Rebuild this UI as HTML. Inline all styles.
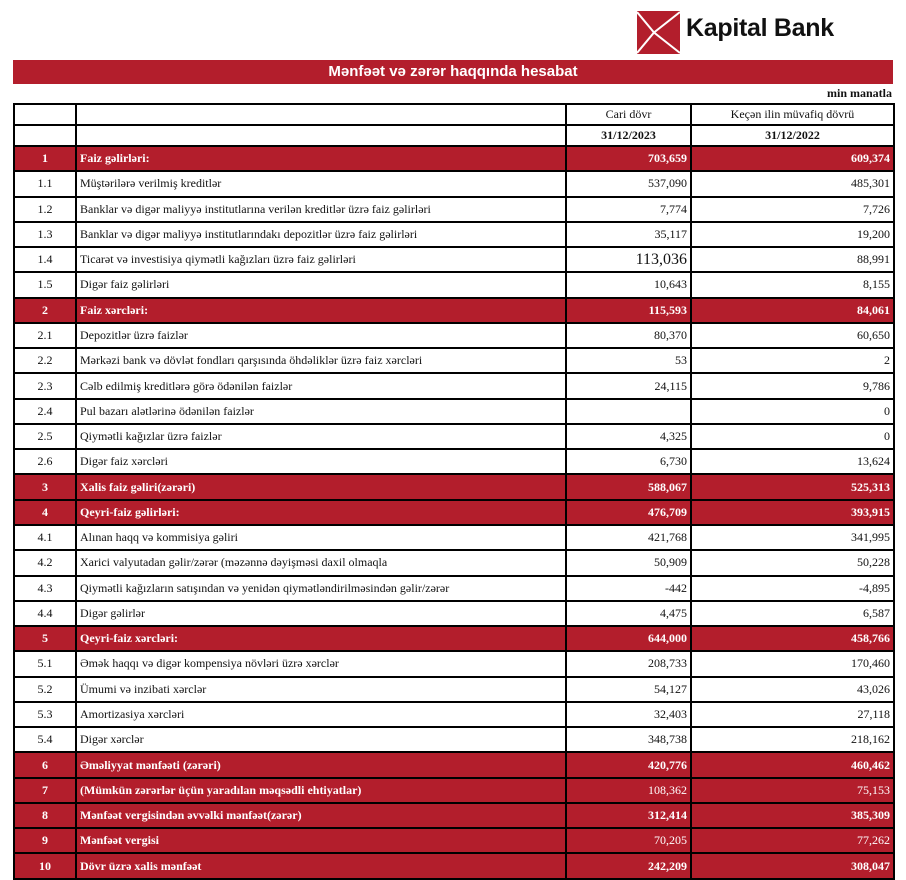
<!DOCTYPE html>
<html><head><meta charset="utf-8"><style>
*{margin:0;padding:0;box-sizing:border-box}
body{width:906px;height:880px;background:#fff;position:relative;overflow:hidden;font-family:"Liberation Serif",serif}
.logo{position:absolute;left:637px;top:11px}
.kb{position:absolute;left:686px;top:14px;font:bold 25px "Liberation Sans",sans-serif;color:#111;letter-spacing:-0.3px}
.title{position:absolute;left:13px;top:60px;width:880px;height:24px;background:#b31e2c;color:#fff;text-align:center;font:bold 15px/24px "Liberation Sans",sans-serif}
.unit{position:absolute;right:14px;top:86px;font-size:12px;font-weight:bold;color:#111}
table{position:absolute;left:13px;top:103px;width:880px;border-collapse:collapse;table-layout:fixed;font-size:12px;color:#111}
td{border:2px solid #000;padding:0 3px;white-space:nowrap;overflow:hidden}
tr.h td{height:21px;text-align:center;font-weight:bold}
tr.d td{height:25.28px}
td.n{text-align:center}
td.v{text-align:right}
tr.r td{background:#b31e2c;color:#fff;font-weight:bold}
</style></head><body>
<svg class="logo" width="43" height="43" viewBox="0 0 43 43">
<rect width="43" height="43" fill="#b31e2c"/>
<polyline points="43,1 17,21.5 43,42" fill="none" stroke="#fff" stroke-width="2"/>
<polyline points="0,1 17,21.5 0,42" fill="none" stroke="#fff" stroke-width="2"/>
</svg>
<div class="kb">Kapital Bank</div>
<div class="title">Mənfəət və zərər haqqında hesabat</div>
<div class="unit">min manatla</div>
<table>
<colgroup><col style="width:62px"><col style="width:490px"><col style="width:125px"><col style="width:203px"></colgroup>
<tr class="h"><td></td><td></td><td style="font-weight:normal">Cari dövr</td><td style="font-weight:normal">Keçən ilin müvafiq dövrü</td></tr>
<tr class="h"><td></td><td></td><td>31/12/2023</td><td>31/12/2022</td></tr>
<tr class="d r"><td class="n">1</td><td>Faiz gəlirləri:</td><td class="v">703,659</td><td class="v">609,374</td></tr>
<tr class="d"><td class="n">1.1</td><td>Müştərilərə verilmiş kreditlər</td><td class="v">537,090</td><td class="v">485,301</td></tr>
<tr class="d"><td class="n">1.2</td><td>Banklar və digər maliyyə institutlarına verilən kreditlər üzrə faiz gəlirləri</td><td class="v">7,774</td><td class="v">7,726</td></tr>
<tr class="d"><td class="n">1.3</td><td>Banklar və digər maliyyə institutlarındakı depozitlər üzrə faiz gəlirləri</td><td class="v">35,117</td><td class="v">19,200</td></tr>
<tr class="d"><td class="n">1.4</td><td>Ticarət və investisiya qiymətli kağızları üzrə faiz gəlirləri</td><td class="v" style="font-size:16px">113,036</td><td class="v">88,991</td></tr>
<tr class="d"><td class="n">1.5</td><td>Digər faiz gəlirləri</td><td class="v">10,643</td><td class="v">8,155</td></tr>
<tr class="d r"><td class="n">2</td><td>Faiz xərcləri:</td><td class="v">115,593</td><td class="v">84,061</td></tr>
<tr class="d"><td class="n">2.1</td><td>Depozitlər üzrə faizlər</td><td class="v">80,370</td><td class="v">60,650</td></tr>
<tr class="d"><td class="n">2.2</td><td>Mərkəzi bank və dövlət fondları qarşısında öhdəliklər üzrə faiz xərcləri</td><td class="v">53</td><td class="v">2</td></tr>
<tr class="d"><td class="n">2.3</td><td>Cəlb edilmiş kreditlərə görə ödənilən faizlər</td><td class="v">24,115</td><td class="v">9,786</td></tr>
<tr class="d"><td class="n">2.4</td><td>Pul bazarı alətlərinə ödənilən faizlər</td><td class="v"></td><td class="v">0</td></tr>
<tr class="d"><td class="n">2.5</td><td>Qiymətli kağızlar üzrə faizlər</td><td class="v">4,325</td><td class="v">0</td></tr>
<tr class="d"><td class="n">2.6</td><td>Digər faiz xərcləri</td><td class="v">6,730</td><td class="v">13,624</td></tr>
<tr class="d r"><td class="n">3</td><td>Xalis faiz gəliri(zərəri)</td><td class="v">588,067</td><td class="v">525,313</td></tr>
<tr class="d r"><td class="n">4</td><td>Qeyri-faiz gəlirləri:</td><td class="v">476,709</td><td class="v">393,915</td></tr>
<tr class="d"><td class="n">4.1</td><td>Alınan haqq və kommisiya gəliri</td><td class="v">421,768</td><td class="v">341,995</td></tr>
<tr class="d"><td class="n">4.2</td><td>Xarici valyutadan gəlir/zərər (məzənnə dəyişməsi daxil olmaqla</td><td class="v">50,909</td><td class="v">50,228</td></tr>
<tr class="d"><td class="n">4.3</td><td>Qiymətli kağızların satışından və yenidən qiymətləndirilməsindən gəlir/zərər</td><td class="v">-442</td><td class="v">-4,895</td></tr>
<tr class="d"><td class="n">4.4</td><td>Digər gəlirlər</td><td class="v">4,475</td><td class="v">6,587</td></tr>
<tr class="d r"><td class="n">5</td><td>Qeyri-faiz xərcləri:</td><td class="v">644,000</td><td class="v">458,766</td></tr>
<tr class="d"><td class="n">5.1</td><td>Əmək haqqı və digər kompensiya növləri üzrə xərclər</td><td class="v">208,733</td><td class="v">170,460</td></tr>
<tr class="d"><td class="n">5.2</td><td>Ümumi və inzibati xərclər</td><td class="v">54,127</td><td class="v">43,026</td></tr>
<tr class="d"><td class="n">5.3</td><td>Amortizasiya xərcləri</td><td class="v">32,403</td><td class="v">27,118</td></tr>
<tr class="d"><td class="n">5.4</td><td>Digər xərclər</td><td class="v">348,738</td><td class="v">218,162</td></tr>
<tr class="d r"><td class="n">6</td><td>Əməliyyat mənfəəti (zərəri)</td><td class="v">420,776</td><td class="v">460,462</td></tr>
<tr class="d r"><td class="n">7</td><td>(Mümkün zərərlər üçün yaradılan məqsədli ehtiyatlar)</td><td class="v" style="font-weight:normal">108,362</td><td class="v" style="font-weight:normal">75,153</td></tr>
<tr class="d r"><td class="n">8</td><td>Mənfəət vergisindən əvvəlki mənfəət(zərər)</td><td class="v">312,414</td><td class="v">385,309</td></tr>
<tr class="d r"><td class="n">9</td><td>Mənfəət vergisi</td><td class="v" style="font-weight:normal">70,205</td><td class="v" style="font-weight:normal">77,262</td></tr>
<tr class="d r"><td class="n">10</td><td>Dövr üzrə xalis mənfəət</td><td class="v">242,209</td><td class="v">308,047</td></tr>
</table>
</body></html>
